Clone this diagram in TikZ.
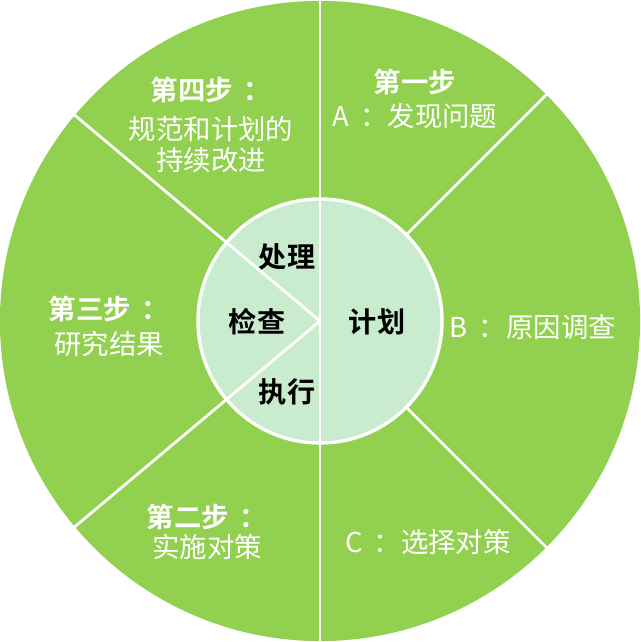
\documentclass[tikz,border=0pt]{standalone}
\usepackage{fontspec}
\setmainfont{Noto Sans CJK SC}[BoldFont={Noto Sans CJK SC Bold}]
\usetikzlibrary{positioning}
\definecolor{ringGreen}{RGB}{146,208,80}
\definecolor{coreMint}{RGB}{200,236,205}
\newcommand{\colgap}{\hspace{0.4em}}

\begin{document}
\begin{tikzpicture}[
    x=0.025cm, y=-0.025cm,
    ring/.style={circle, inner sep=0pt, minimum size=16cm, fill=ringGreen},
    core/.style={circle, inner sep=0pt, minimum size=6.1cm,
                 fill=coreMint, draw=white, line width=2.4pt},
    spoke/.style={draw=white, line width=2pt},
    steptxt/.style={text=white, align=center, inner sep=0pt,
                    font=\fontsize{19.5pt}{22pt}\selectfont},
    phase/.style={text=black, inner sep=0pt,
                  font=\fontsize{20pt}{24pt}\selectfont\bfseries}
]
\useasboundingbox (0,0) rectangle (640,642);

% outer ring and inner PDCA disc
\node[ring] (outer) at (320,321) {};
\node[core] (inner) at (320,321) {};
\coordinate (hub) at (320,321);

% dividing lines
\draw[spoke] (outer.north) -- (outer.south);
\draw[spoke] (hub) -- (outer.140);
\draw[spoke] (hub) -- (outer.220);
\draw[spoke] (inner.45) -- (outer.45);
\draw[spoke] (inner.-45) -- (outer.-45);

% PDCA phases
\node[phase] (act)   at (287,257) {处理};
\node[phase] (check) at (257,322) {检查};
\node[phase] (plan)  at (377,322) {计划};
\node[phase] (do)    at (287,392) {执行};

% steps in the outer ring
\node[steptxt] (step1) at (415,99)  {\textbf{第一步}\\[2pt]A\colgap：发现问题};
\node[steptxt] (stepB) at (533,327) {B\colgap：原因调查};
\node[steptxt] (stepC) at (428,542) {C\colgap：选择对策};
\node[steptxt] (step2) at (207,532) {\textbf{第二步\colgap：}\\[-1pt]实施对策};
\node[steptxt] (step3) at (109,326) {\textbf{第三步\colgap：}\\[3pt]研究结果};
\node[steptxt] (step4) at (211,125) {\textbf{第四步\colgap：}\\[6pt]规范和计划的\\持续改进};

\end{tikzpicture}
\end{document}
